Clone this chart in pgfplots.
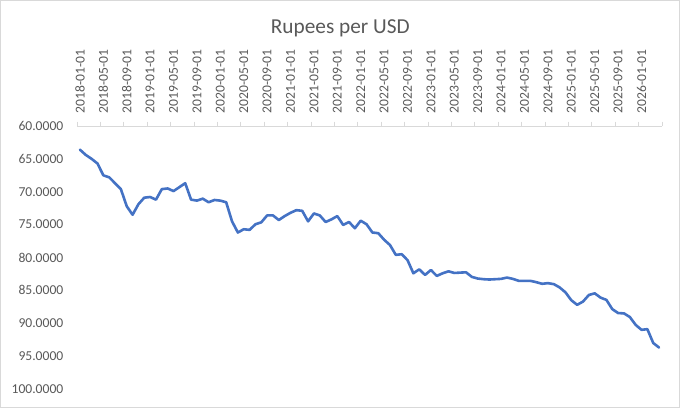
\documentclass[border=0pt]{standalone}
\usepackage{pgfplots}
\pgfplotsset{compat=1.18}
\usepackage{fontspec}
\setmainfont{Carlito}
\definecolor{txt}{HTML}{595959}
\definecolor{ln}{HTML}{4472C4}
\definecolor{axc}{HTML}{D9D9D9}
\begin{document}
\begin{tikzpicture}
\useasboundingbox (-77bp,-19bp) rectangle (603bp,389bp);
\draw[axc, line width=0.75bp] (-76.6bp,-18.6bp) rectangle (602.6bp,388.6bp);
\begin{axis}[
  at={(0,0)}, anchor=south west,
  scale only axis, width=585bp, height=263bp,
  xmin=-0.5, xmax=99.5, ymin=60, ymax=100, y dir=reverse,
  axis x line*=top, axis y line*=left,
  y axis line style={draw=none},
  x axis line style={axc, line width=0.75bp},
  tick align=outside,
  major tick length=0pt,
  minor tick length=4.5bp,
  xtick={0,4,...,96},
  xticklabels={2018-01-01,2018-05-01,2018-09-01,2019-01-01,2019-05-01,2019-09-01,2020-01-01,2020-05-01,2020-09-01,2021-01-01,2021-05-01,2021-09-01,2022-01-01,2022-05-01,2022-09-01,2023-01-01,2023-05-01,2023-09-01,2024-01-01,2024-05-01,2024-09-01,2025-01-01,2025-05-01,2025-09-01,2026-01-01},
  minor xtick={-0.5,3.5,...,99.5},
  major x tick style={draw=none},
  minor x tick style={axc, line width=0.75bp},
  ytick={60,65,...,100},
  major y tick style={draw=none},
  xticklabel style={rotate=90, anchor=west, inner sep=0pt, text=txt, font=\fontsize{13.6bp}{16bp}\selectfont},
  xticklabel shift=12.5bp,
  yticklabel style={anchor=east, inner sep=0pt, text=txt, font=\fontsize{13.6bp}{16bp}\selectfont},
  yticklabel shift=13.5bp,
  /pgf/number format/assume math mode=true,
  yticklabel={\pgfmathprintnumber[fixed, fixed zerofill, precision=4, 1000 sep={}]{\tick}},
]
\addplot[ln, line width=2.6bp, line join=round, line cap=round] table[x=k, y=v] {
k v
0 63.6
1 64.4
2 65.0
3 65.7
4 67.5
5 67.8
6 68.7
7 69.6
8 72.2
9 73.5
10 71.9
11 70.9
12 70.8
13 71.2
14 69.6
15 69.5
16 69.9
17 69.3
18 68.7
19 71.2
20 71.35
21 71.05
22 71.6
23 71.25
24 71.35
25 71.6
26 74.5
27 76.2
28 75.7
29 75.8
30 74.95
31 74.65
32 73.6
33 73.6
34 74.3
35 73.7
36 73.2
37 72.8
38 72.9
39 74.5
40 73.3
41 73.6
42 74.6
43 74.2
44 73.7
45 75.05
46 74.6
47 75.55
48 74.4
49 74.95
50 76.2
51 76.3
52 77.3
53 78.1
54 79.6
55 79.5
56 80.4
57 82.4
58 81.8
59 82.65
60 81.9
61 82.8
62 82.4
63 82.1
64 82.35
65 82.3
66 82.25
67 82.95
68 83.2
69 83.3
70 83.35
71 83.3
72 83.25
73 83.05
74 83.25
75 83.55
76 83.55
77 83.55
78 83.75
79 84.0
80 83.9
81 84.05
82 84.55
83 85.3
84 86.5
85 87.2
86 86.7
87 85.7
88 85.45
89 86.1
90 86.45
91 87.85
92 88.45
93 88.5
94 89.05
95 90.25
96 91.0
97 90.9
98 93.0
99 93.7
};
\end{axis}
\node[anchor=base, text=txt, font=\fontsize{21.3bp}{25bp}\selectfont, inner sep=0pt] at (263.3bp,355.7bp) {Rupees per USD};
\end{tikzpicture}
\end{document}
